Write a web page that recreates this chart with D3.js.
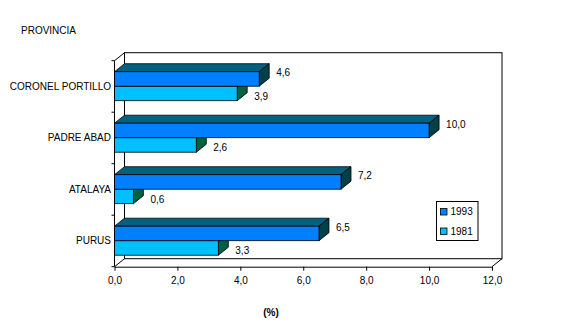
<!DOCTYPE html>
<html><head><meta charset="utf-8">
<script src="https://cdn.jsdelivr.net/npm/d3@7"></script>
<style>
html,body{margin:0;padding:0;background:#fff;}
text{font-family:"Liberation Sans",Arial,sans-serif;font-size:10px;fill:#000;}
</style></head>
<body>
<script>
const categories = ["CORONEL PORTILLO", "PADRE ABAD", "ATALAYA", "PURUS"];
const seriesNames = ["1993", "1981"];
const values1993 = [4.6, 10.0, 7.2, 6.5];
const values1981 = [3.9, 2.6, 0.6, 3.3];
const xTicks = [0, 2, 4, 6, 8, 10, 12];
const axisTitle = "(%)";
const catTitle = "PROVINCIA";

const W = 564, H = 322;
const svg = d3.select("body").append("svg").attr("width", W).attr("height", H);

const DX = 10, DY = -8;
const x = d3.scaleLinear().domain([0, 12]).range([114.5, 492]);
const y = d3.scaleBand().domain(categories).range([60.7, 266.7]);
const inner = d3.scaleBand().domain(seriesNames).range([11, 40]);
const colors = {
  "1993": {front: "#0080FF", top: "#006080", side: "#004048"},
  "1981": {front: "#00C0FF", top: "#00A0C0", side: "#006040"}
};
const fmt = d => d.toFixed(1).replace(".", ",");

const x0 = x(0), x1 = x(12), yT = y.range()[0], yB = y.range()[1];

// back wall
svg.append("rect").attr("x", x0 + DX).attr("y", yT + DY)
  .attr("width", x1 - x0).attr("height", yB - yT)
  .attr("fill", "#fff").attr("stroke", "#000").attr("stroke-width", 1);
// depth lines
const dl = [[x0, yT], [x0, yB], [x1, yB]];
svg.selectAll("line.depth").data(dl).enter().append("line")
  .attr("x1", d => d[0]).attr("y1", d => d[1])
  .attr("x2", d => d[0] + DX).attr("y2", d => d[1] + DY)
  .attr("stroke", "#000");

// bars
const rows = [];
categories.forEach((c, i) => {
  rows.push({cat: c, s: "1981", v: values1981[i]});
  rows.push({cat: c, s: "1993", v: values1993[i]});
});
rows.forEach(r => {
  const top = y(r.cat) + inner(r.s);
  const h = inner.bandwidth();
  const xs = x(0), xe = x(r.v);
  const g = svg.append("g");
  const col = colors[r.s];
  g.append("path").attr("d", `M${xs},${top}L${xs + DX},${top + DY}L${xe + DX},${top + DY}L${xe},${top}Z`)
    .attr("fill", col.top).attr("stroke", "#000").attr("stroke-width", 0.8);
  g.append("path").attr("d", `M${xe},${top}L${xe + DX},${top + DY}L${xe + DX},${top + h + DY}L${xe},${top + h}Z`)
    .attr("fill", col.side).attr("stroke", "#000").attr("stroke-width", 0.8);
  g.append("rect").attr("x", xs).attr("y", top).attr("width", xe - xs).attr("height", h)
    .attr("fill", col.front).attr("stroke", "#000").attr("stroke-width", 0.8);
});

// value labels
rows.forEach(r => {
  const top = y(r.cat) + inner(r.s);
  const yy = r.s === "1993" ? top + 1 : top + inner.bandwidth() / 2 + 3;
  svg.append("text").attr("x", x(r.v) + 17).attr("y", yy).attr("dy", "0.35em")
    .text(fmt(r.v));
});

// left axis line and boundary ticks
svg.append("line").attr("x1", x0).attr("x2", x0).attr("y1", yT).attr("y2", yB).attr("stroke", "#000");
const bounds = categories.map(c => y(c)).concat([yB]);
svg.selectAll("line.ytick").data(bounds).enter().append("line")
  .attr("x1", x0 - 3).attr("x2", x0).attr("y1", d => d).attr("y2", d => d).attr("stroke", "#000");
svg.selectAll("text.cat").data(categories).enter().append("text")
  .attr("x", 111).attr("y", d => y(d) + y.bandwidth() / 2).attr("dy", "0.35em")
  .attr("text-anchor", "end").text(d => d);

// bottom axis
const ax = svg.append("g").attr("transform", `translate(0,${yB})`)
  .call(d3.axisBottom(x).tickValues(xTicks).tickFormat(fmt).tickSize(4).tickPadding(6).tickSizeOuter(0));
ax.select(".domain").attr("stroke", "#000");
ax.selectAll("text").style("font-family", "'Liberation Sans',Arial,sans-serif").style("font-size", "10px");

// titles
svg.append("text").attr("x", 21).attr("y", 30).attr("dy", "0.35em").text(catTitle);
svg.append("text").attr("x", 271).attr("y", 312).attr("dy", "0.35em").attr("text-anchor", "middle")
  .style("font-weight", "bold").text(axisTitle);

// legend
const lg = svg.append("g").attr("transform", "translate(436.5,201.5)");
lg.append("rect").attr("width", 41.5).attr("height", 39).attr("fill", "#fff").attr("stroke", "#000");
seriesNames.forEach((s, i) => {
  const cy = 10 + i * 19.5;
  lg.append("rect").attr("x", 4).attr("y", cy - 3).attr("width", 6.5).attr("height", 6.5)
    .attr("fill", colors[s].front).attr("stroke", "#000").attr("stroke-width", 0.8);
  lg.append("text").attr("x", 14).attr("y", cy).attr("dy", "0.35em").text(s);
});
</script>
</body></html>
